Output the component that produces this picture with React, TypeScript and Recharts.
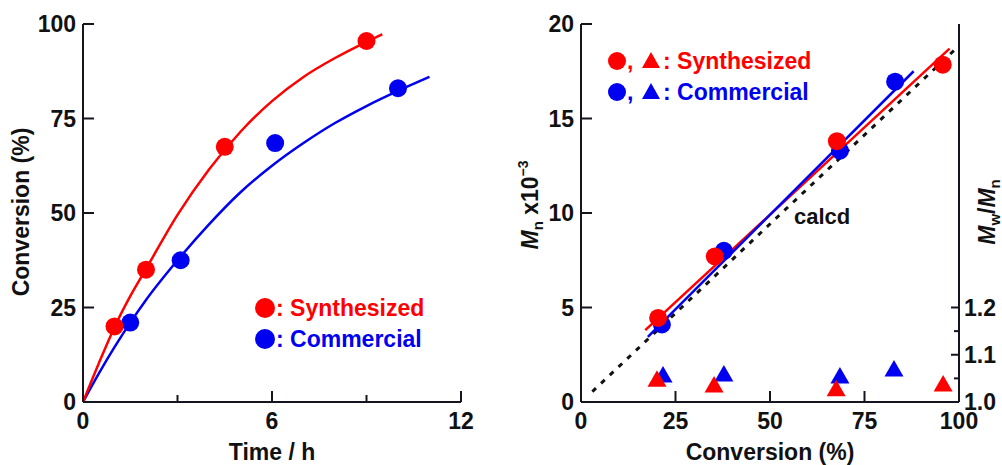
import React from 'react'
import {
  ComposedChart,
  XAxis,
  YAxis,
  Line,
  Scatter
} from 'recharts'

// left panel: conversion vs time
const synthTime = [1.0, 2.0, 4.5, 9.0]
const synthConv = [20, 35, 67.5, 95.5]
const commTime = [1.5, 3.1, 6.1, 10.0]
const commConv = [21, 37.5, 68.5, 83]

const synthFitTime = [0, 0.5, 1, 1.5, 2, 3, 4, 5, 6, 7, 8, 9, 9.5]
const synthFitConv = [0, 10.2, 19.8, 28, 35.2, 49.5, 61.5, 71.5, 79.6, 86, 91, 95.3, 97.3]
const commFitTime = [0, 0.5, 1, 1.5, 2, 3, 4, 5, 6, 7, 8, 9, 10, 11]
const commFitConv = [0, 7.5, 14.5, 21, 27, 37.5, 47, 55.5, 62.5, 68.5, 73.8, 78.3, 82.3, 86]

// right panel: Mn and Mw/Mn vs conversion
const synthMnConv = [20.4, 35.4, 67.7, 95.7]
const synthMn = [4.45, 7.7, 13.8, 17.85]
const commMnConv = [21.4, 37.8, 68.5, 83.1]
const commMn = [4.1, 8.0, 13.3, 16.95]

const synthPdiConv = [20.1, 35.2, 67.5, 95.8]
const synthPdi = [1.048, 1.036, 1.028, 1.038]
const commPdiConv = [21.7, 37.8, 68.5, 82.8]
const commPdi = [1.057, 1.059, 1.055, 1.07]

const synthLineConv = [17, 97.5]
const synthLineMn = [3.8, 18.7]
const commLineConv = [17.7, 88]
const commLineMn = [3.45, 17.5]
const calcdConv = [3, 100]
const calcdMn = [0.55, 18.85]

const timeTicks = [0, 3, 6, 9, 12]
const convTicks = [0, 25, 50, 75, 100]
const mnTicks = [0, 5, 10, 15, 20]
const pdiTicks = [1.0, 1.05, 1.1, 1.15, 1.2]

const zip = (xs: number[], ys: number[]) => xs.map((x, i) => ({ x, y: ys[i] }))

const RED = '#ff0000'
const BLUE = '#0000f0'
const AX = '#15151f'
const FONT = '"Liberation Sans", Arial, Helvetica, sans-serif'
const FS = 23

const axisLine = { stroke: AX, strokeWidth: 2 }

const bottomTick = (labeled: number[]) => (props: any) => {
  const { x, y, payload } = props
  const v = payload.value
  const hasLabel = labeled.includes(v)
  return (
    <g>
      <line x1={x} x2={x} y1={y} y2={y - (hasLabel ? 11 : 7)} stroke={AX} strokeWidth={2} />
      {hasLabel && (
        <text x={x} y={y + 27} textAnchor="middle" fontFamily={FONT} fontWeight="bold" fontSize={FS} fill="#111">
          {v}
        </text>
      )}
    </g>
  )
}

const leftTick = (props: any) => {
  const { x, y, payload } = props
  return (
    <g>
      <line x1={x} x2={x + 11} y1={y} y2={y} stroke={AX} strokeWidth={2} />
      <text x={x - 7} y={y + 8} textAnchor="end" fontFamily={FONT} fontWeight="bold" fontSize={FS} fill="#111">
        {payload.value}
      </text>
    </g>
  )
}

const rightTick = (props: any) => {
  const { x, y, payload } = props
  const v = payload.value
  const major = Math.round(v * 100) % 10 === 0
  return (
    <g>
      <line x1={x} x2={x - (major ? 8 : 5)} y1={y} y2={y} stroke={AX} strokeWidth={2} />
      {major && (
        <text x={x + 5} y={y + 8} textAnchor="start" fontFamily={FONT} fontWeight="bold" fontSize={FS} fill="#111">
          {v.toFixed(1)}
        </text>
      )}
    </g>
  )
}

const dot = (color: string) => (p: any) => <circle cx={p.cx} cy={p.cy} r={9} fill={color} />
const tri = (color: string) => (p: any) => (
  <path d={`M${p.cx},${p.cy - 9} L${p.cx + 9.5},${p.cy + 7.5} L${p.cx - 9.5},${p.cy + 7.5} Z`} fill={color} />
)

const txt = { fontFamily: FONT, fontWeight: 'bold' as const, fontSize: FS }

const App: React.FC = () => {
  return (
    <div style={{ position: 'absolute', left: 0, top: 0, width: 1002, height: 465, background: '#fff' }}>
      <div style={{ position: 'absolute', left: 0, top: 0 }}>
        <ComposedChart width={480} height={465} margin={{ top: 24, right: 19, bottom: 0, left: 0 }}>
          <XAxis
            type="number"
            dataKey="x"
            domain={[0, 12]}
            ticks={timeTicks}
            height={63}
            tickSize={0}
            tickMargin={0}
            tickLine={false}
            axisLine={axisLine}
            tick={bottomTick([0, 6, 12])}
            allowDataOverflow
          />
          <XAxis xAxisId="top" orientation="top" type="number" dataKey="x" domain={[0, 12]} height={0} tick={false} tickLine={false} axisLine={axisLine} />
          <YAxis
            type="number"
            dataKey="y"
            domain={[0, 100]}
            ticks={convTicks}
            width={83}
            tickSize={0}
            tickMargin={0}
            tickLine={false}
            axisLine={axisLine}
            tick={leftTick}
            allowDataOverflow
          />
          <YAxis yAxisId="rb" orientation="right" type="number" domain={[0, 100]} width={0} tick={false} tickLine={false} axisLine={axisLine} />
          <Line data={zip(commFitTime, commFitConv)} dataKey="y" type="monotone" stroke={BLUE} strokeWidth={2.5} dot={false} isAnimationActive={false} />
          <Line data={zip(synthFitTime, synthFitConv)} dataKey="y" type="monotone" stroke={RED} strokeWidth={2.5} dot={false} isAnimationActive={false} />
          <Scatter data={zip(commTime, commConv)} shape={dot(BLUE)} isAnimationActive={false} />
          <Scatter data={zip(synthTime, synthConv)} shape={dot(RED)} isAnimationActive={false} />
        </ComposedChart>
      </div>

      <div style={{ position: 'absolute', left: 520, top: 0 }}>
        <ComposedChart width={482} height={465} margin={{ top: 24, right: 0, bottom: 0, left: 0 }}>
          <XAxis
            type="number"
            dataKey="x"
            domain={[0, 100]}
            ticks={convTicks}
            height={63}
            tickSize={0}
            tickMargin={0}
            tickLine={false}
            axisLine={axisLine}
            tick={bottomTick(convTicks)}
            allowDataOverflow
          />
          <XAxis xAxisId="top" orientation="top" type="number" dataKey="x" domain={[0, 100]} height={0} tick={false} tickLine={false} axisLine={axisLine} />
          <YAxis
            type="number"
            dataKey="y"
            domain={[0, 20]}
            ticks={mnTicks}
            width={61}
            tickSize={0}
            tickMargin={0}
            tickLine={false}
            axisLine={axisLine}
            tick={leftTick}
            allowDataOverflow
          />
          <YAxis
            yAxisId="r"
            orientation="right"
            type="number"
            dataKey="y"
            domain={[1.0, 1.8]}
            ticks={pdiTicks}
            width={43}
            tickSize={0}
            tickMargin={0}
            tickLine={false}
            axisLine={axisLine}
            tick={rightTick}
            allowDataOverflow
          />
          <Line data={zip(calcdConv, calcdMn)} dataKey="y" type="linear" stroke="#111" strokeWidth={3} strokeDasharray="5 7" dot={false} isAnimationActive={false} />
          <Line data={zip(synthLineConv, synthLineMn)} dataKey="y" type="linear" stroke={RED} strokeWidth={2.5} dot={false} isAnimationActive={false} />
          <Line data={zip(commLineConv, commLineMn)} dataKey="y" type="linear" stroke={BLUE} strokeWidth={2.5} dot={false} isAnimationActive={false} />
          <Scatter data={zip(commMnConv, commMn)} shape={dot(BLUE)} isAnimationActive={false} />
          <Scatter data={zip(synthMnConv, synthMn)} shape={dot(RED)} isAnimationActive={false} />
          <Scatter yAxisId="r" data={zip(commPdiConv, commPdi)} shape={tri(BLUE)} isAnimationActive={false} />
          <Scatter yAxisId="r" data={zip(synthPdiConv, synthPdi)} shape={tri(RED)} isAnimationActive={false} />
        </ComposedChart>
      </div>

      <svg width={1002} height={465} style={{ position: 'absolute', left: 0, top: 0, pointerEvents: 'none' }}>
        {/* axis titles */}
        <text x={272} y={460} textAnchor="middle" {...txt} fill="#111">Time / h</text>
        <text transform="translate(29,212) rotate(-90)" textAnchor="middle" {...txt} fill="#111">Conversion (%)</text>
        <text x={770} y={460} textAnchor="middle" {...txt} fill="#111">Conversion (%)</text>
        <text transform="translate(538,205) rotate(-90)" textAnchor="middle" {...txt} fill="#111">
          <tspan fontStyle="italic">M</tspan>
          <tspan fontSize={15} dy={5}>n</tspan>
          <tspan dy={-5}> x10</tspan>
          <tspan fontSize={14} dy={-10}>−3</tspan>
        </text>
        <text transform="translate(995,212) rotate(-90)" textAnchor="middle" {...txt} fill="#111">
          <tspan fontStyle="italic">M</tspan>
          <tspan fontSize={15} dy={5}>w</tspan>
          <tspan dy={-5}>/</tspan>
          <tspan fontStyle="italic">M</tspan>
          <tspan fontSize={15} dy={5}>n</tspan>
        </text>
        <text x={794} y={224} {...txt} fontSize={22} fill="#111">calcd</text>

        {/* left legend */}
        <circle cx={265} cy={308} r={10} fill={RED} />
        <text x={276} y={316} {...txt} fill={RED}>: Synthesized</text>
        <circle cx={265} cy={339} r={10} fill={BLUE} />
        <text x={276} y={347} {...txt} fill={BLUE}>: Commercial</text>

        {/* right legend */}
        <circle cx={617} cy={61} r={9} fill={RED} />
        <text x={627} y={69} {...txt} fill={RED}>,</text>
        <path d="M651,52 L660,68 L642,68 Z" fill={RED} />
        <text x={663} y={69} {...txt} fill={RED}>: Synthesized</text>
        <circle cx={617} cy={92} r={9} fill={BLUE} />
        <text x={627} y={100} {...txt} fill={BLUE}>,</text>
        <path d="M651,83 L660,99 L642,99 Z" fill={BLUE} />
        <text x={663} y={100} {...txt} fill={BLUE}>: Commercial</text>
      </svg>
    </div>
  )
}

export default App
